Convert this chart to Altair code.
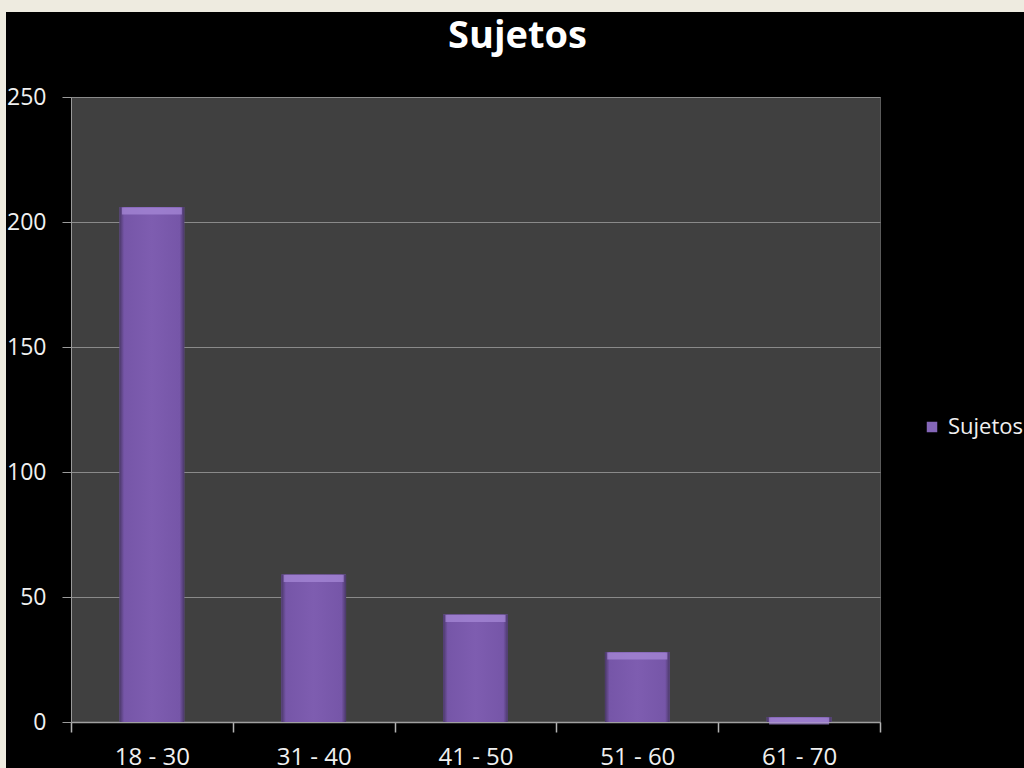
import altair as alt
import pandas as pd

categories = ["18 - 30", "31 - 40", "41 - 50", "51 - 60", "61 - 70"]
values = [206, 59, 43, 28, 2]
series_name = "Sujetos"

df = pd.DataFrame({"rango": categories, "sujetos": values, "serie": [series_name] * len(values)})
deco = pd.DataFrame({"d": [0]})

FONT = "Open Sans"
BAR_W = alt.RelativeBandSize(0.4)

x_enc = alt.X(
    "rango:N",
    sort=categories,
    scale=alt.Scale(paddingInner=0, paddingOuter=0),
    axis=alt.Axis(
        title=None, labelAngle=0, labelColor="#f0f0f0", labelFontSize=24, labelFont=FONT,
        ticks=True, tickBand="extent", tickSize=10, tickWidth=1.5, tickColor="#b4b4b4",
        domainColor="#a0a0a0", domainWidth=1.5, labelPadding=13, labelBaseline="top",
    ),
)
y_enc = alt.Y(
    "sujetos:Q",
    scale=alt.Scale(domain=[0, 250], nice=False),
    axis=alt.Axis(
        title=None, values=[0, 50, 100, 150, 200, 250], labelColor="#f0f0f0", labelFontSize=23,
        labelFont=FONT, tickSize=9, tickColor="#9a9a9a", domainColor="#9a9a9a",
        gridColor="#8a8a8a", gridWidth=1, labelPadding=16,
    ),
)

base_bars = alt.Chart(df).mark_bar(width=BAR_W).encode(
    x=x_enc,
    y=y_enc,
    color=alt.Color(
        "serie:N",
        scale=alt.Scale(domain=[series_name], range=["#8466B8"]),
        legend=alt.Legend(
            title=None, orient="none", legendX=850, legendY=319, symbolType="square",
            symbolSize=110, symbolStrokeWidth=0, labelColor="#f0f0f0", labelFontSize=22,
            labelFont=FONT, labelOffset=5, padding=0,
        ),
    ),
)

grad = alt.Gradient(
    gradient="linear",
    x1=0, x2=1, y1=0, y2=0,
    stops=[
        alt.GradientStop(color="#4a3868", offset=0),
        alt.GradientStop(color="#7656a8", offset=0.07),
        alt.GradientStop(color="#7e5db0", offset=0.5),
        alt.GradientStop(color="#7656a8", offset=0.93),
        alt.GradientStop(color="#4a3868", offset=1),
    ],
)
grad_bars = alt.Chart(df).mark_bar(color=grad, width=BAR_W).encode(x=x_enc, y=y_enc)

bevel = alt.Chart(df).mark_tick(
    color="#a98cda", thickness=7, size=60, yOffset=4
).encode(x=x_enc, y=y_enc)

top_strip = alt.Chart(deco).mark_rect(color="#eeebe0").encode(
    x=alt.value(-71), x2=alt.value(953), y=alt.value(-97), y2=alt.value(-85)
)
left_strip = alt.Chart(deco).mark_rect(color="#eeebe0").encode(
    x=alt.value(-71), x2=alt.value(-65), y=alt.value(-97), y2=alt.value(671)
)

chart = alt.layer(base_bars, grad_bars, bevel, top_strip, left_strip).properties(
    width=809,
    height=625,
    title=alt.TitleParams(
        "Sujetos", color="#ffffff", fontSize=38, font=FONT, fontWeight="bold",
        anchor="middle", dx=42, offset=0, dy=56,
    ),
    background="#000000",
    padding={"left": 71, "top": 97, "right": 144, "bottom": 46},
    autosize=alt.AutoSizeParams(type="none"),
).configure_view(fill="#404040", stroke="#5a5a5a")

chart.save("out.html", embed_options={"renderer": "svg", "actions": False})
